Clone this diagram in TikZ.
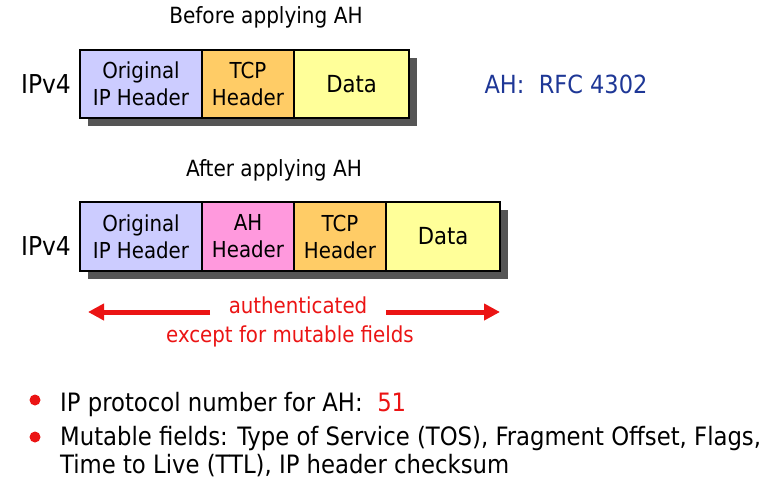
\documentclass[tikz,border=0pt]{standalone}
\usepackage{fontspec}
\setmainfont{DejaVu Sans Condensed}
\usetikzlibrary{shadows,arrows.meta}
\definecolor{lav}{RGB}{204,204,255}
\definecolor{org}{RGB}{255,204,102}
\definecolor{yel}{RGB}{255,255,153}
\definecolor{pnk}{RGB}{255,153,221}
\definecolor{ahblue}{RGB}{30,55,150}
\definecolor{ared}{RGB}{235,20,20}
\definecolor{shd}{RGB}{85,85,85}
\begin{document}
\begin{tikzpicture}[x=1pt,y=-1pt,
  cell/.style={draw=black,line width=1.2pt,inner sep=0pt,align=center,
    font=\fontsize{22}{27}\selectfont,
    drop shadow={shadow xshift=8pt,shadow yshift=-8pt,fill=shd,opacity=1}},
  datafont/.style={font=\fontsize{23.5}{27}\selectfont},
  lbl/.style={inner sep=0pt,anchor=base},
  head/.style={lbl,font=\fontsize{22.3}{26}\selectfont},
  big/.style={lbl,font=\fontsize{26}{30}\selectfont},
  redtxt/.style={lbl,text=ared,font=\fontsize{22}{27}\selectfont},
  txt/.style={inner sep=0pt,anchor=base west,font=\fontsize{25.3}{30}\selectfont},
  bul/.style={circle,fill=ared,inner sep=0pt,minimum size=11pt},
  redarrow/.style={draw=ared,line width=5pt,-{Triangle[length=16pt,width=16pt]}}
]
\useasboundingbox (0,0) rectangle (775,490);

% before
\node[head] (h1) at (266,23) {Before applying AH};
\node[big] (ip1) at (46,93) {IPv4};
\node[cell,fill=lav,minimum width=122pt,minimum height=68pt] (o1) at (141,84) {Original\\IP Header};
\node[cell,fill=org,minimum width=92pt,minimum height=68pt] (t1) at (248,84) {TCP\\Header};
\node[cell,datafont,fill=yel,minimum width=115pt,minimum height=68pt] (d1) at (351.5,84) {Data};
\node[lbl,text=ahblue,font=\fontsize{25}{29}\selectfont] (rfc) at (566,93) {AH:\ \ RFC 4302};

% after
\node[head] (h2) at (274,176) {After applying AH};
\node[big] (ip2) at (46,255) {IPv4};
\node[cell,fill=lav,minimum width=122pt,minimum height=69pt] (o2) at (141,236.5) {Original\\IP Header};
\node[cell,fill=pnk,minimum width=92pt,minimum height=69pt] (a2) at (248,236.5) {AH\\Header};
\node[cell,fill=org,minimum width=92pt,minimum height=69pt] (t2) at (340,236.5) {TCP\\Header};
\node[cell,datafont,fill=yel,minimum width=114pt,minimum height=69pt] (d2) at (443,236.5) {Data};

% authenticated arrows
\node[redtxt] (auth) at (298,313) {authenticated};
\node[redtxt] (exc) at (290,342) {except for mutable fields};
\coordinate (la) at (210,312);
\coordinate (lt) at (88,312);
\coordinate (ra) at (386,312);
\coordinate (rt) at (500,312);
\draw[redarrow] (la) -- (lt);
\draw[redarrow] (ra) -- (rt);

% bullets
\node[bul] (b1) at (35,400) {};
\node[txt] (l1) at (60,411) {IP protocol number for AH:\ \ \textcolor{ared}{51}};
\node[bul] (b2) at (35,437) {};
\node[txt] (l2) at (60,445) {Mutable fields: Type of Service (TOS), Fragment Offset, Flags,};
\node[txt] (l3) at (60,473) {Time to Live (TTL), IP header checksum};
\end{tikzpicture}
\end{document}
